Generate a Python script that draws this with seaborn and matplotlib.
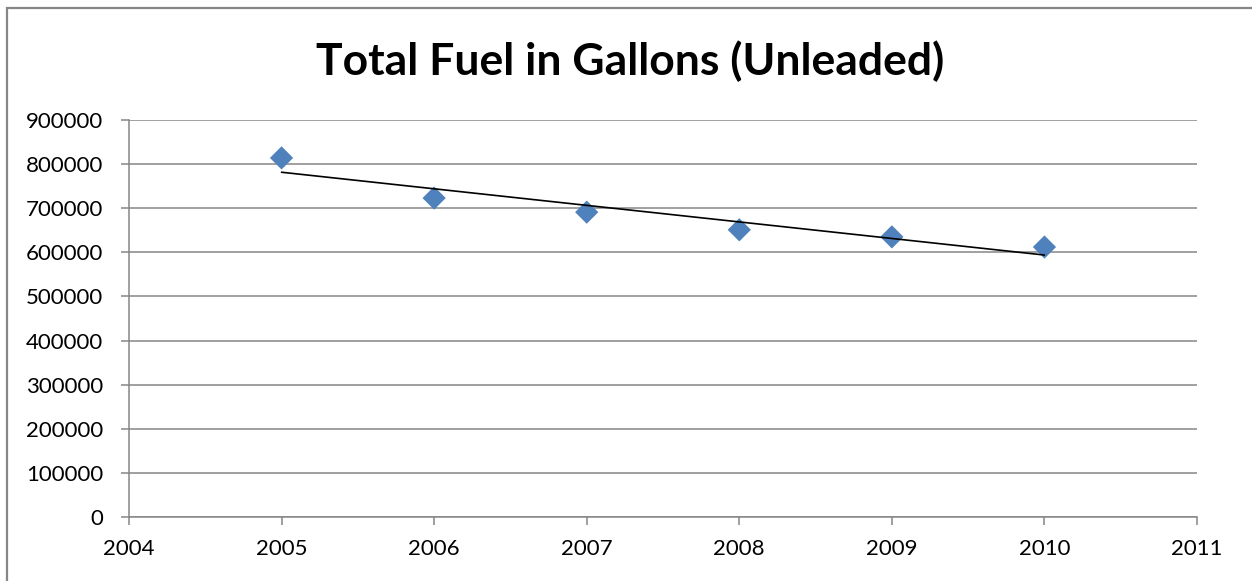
import matplotlib
matplotlib.use("Agg")
import matplotlib.pyplot as plt
import seaborn as sns
import pandas as pd
import numpy as np
from matplotlib.patches import Rectangle

# Annual unleaded fuel totals (gallons)
years = [2005, 2006, 2007, 2008, 2009, 2010]
gallons = [814000, 723000, 691000, 651000, 635000, 612000]
y_ticks = [0, 100000, 200000, 300000, 400000, 500000, 600000, 700000, 800000, 900000]
x_ticks = [2004, 2005, 2006, 2007, 2008, 2009, 2010, 2011]
title = "Total Fuel in Gallons (Unleaded)"

df = pd.DataFrame({"year": years, "gallons": gallons})

sns.set_theme(style="white")
plt.rcParams["font.family"] = ["Lato", "DejaVu Sans"]

grid_gray = "#868686"
marker_blue = "#4F81BD"

fig = plt.figure(figsize=(12.52, 5.81), dpi=100)
ax = fig.add_axes([0.1030, 0.1102, 0.8531, 0.6833])

sns.scatterplot(data=df, x="year", y="gallons", marker="D", s=140,
                color=marker_blue, edgecolor="none", ax=ax, zorder=3)
sns.regplot(data=df, x="year", y="gallons", scatter=False, ci=None,
            truncate=True, color="black", line_kws={"linewidth": 1.2, "zorder": 4},
            ax=ax)

ax.set_xlim(2004, 2011)
ax.set_ylim(0, 900000)
ax.set_xticks(x_ticks)
ax.set_yticks(y_ticks)
ax.set_xticklabels([str(v) for v in x_ticks])
ax.set_yticklabels([str(v) for v in y_ticks])
ax.set_xlabel("")
ax.set_ylabel("")

ax.yaxis.grid(True, color=grid_gray, linewidth=1.1)
ax.xaxis.grid(False)
ax.set_axisbelow(True)

for side in ("top", "right"):
    ax.spines[side].set_visible(False)
for side in ("left", "bottom"):
    ax.spines[side].set_color(grid_gray)
    ax.spines[side].set_linewidth(1.1)

ax.tick_params(axis="y", which="major", direction="out", length=5.5, width=1.1,
               color=grid_gray, labelsize=16, pad=13, left=True, labelcolor="black")
ax.tick_params(axis="x", which="major", direction="out", length=5.5, width=1.1,
               color=grid_gray, labelsize=16, pad=10, bottom=True, labelcolor="black")

fig.text(0.5035, 0.894, title, ha="center", va="center",
         fontsize=32, fontweight="bold", color="black")

# chart frame
fig.patches.append(Rectangle((7 / 1252, -0.1), 1.2, 1 - 8 / 581 + 0.1,
                             transform=fig.transFigure, fill=False,
                             edgecolor=grid_gray, linewidth=1.6))

fig.savefig("out.png", dpi=100)
